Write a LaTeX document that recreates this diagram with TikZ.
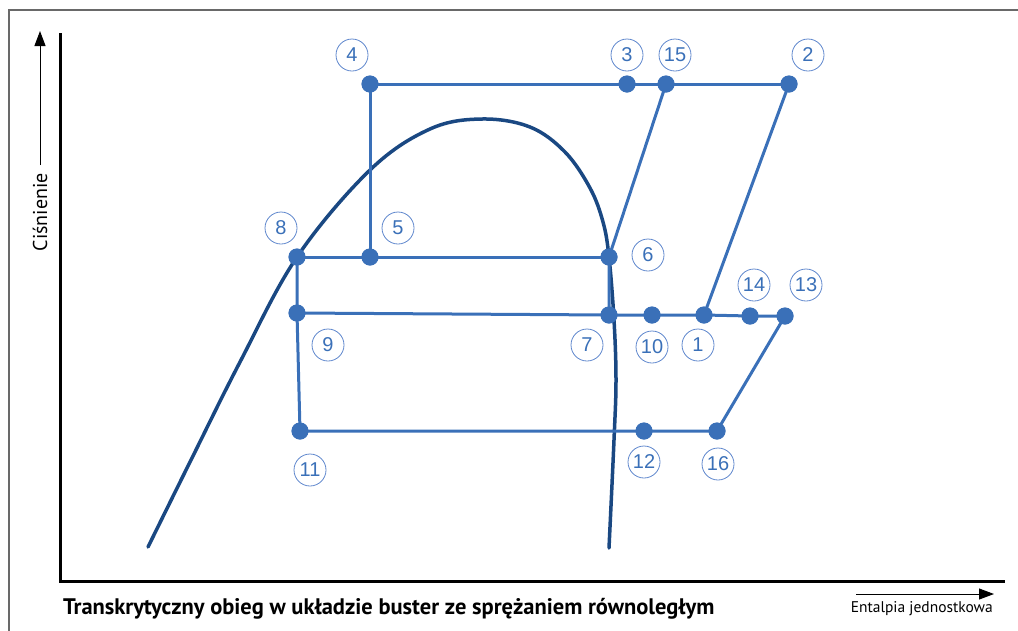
\documentclass[tikz,border=0pt]{standalone}
\usepackage{fontspec}
\setmainfont{PT Sans}
\newfontfamily\numfont{Liberation Sans}
\usetikzlibrary{arrows.meta}
\definecolor{cycleblue}{RGB}{58,112,184}
\definecolor{ringblue}{RGB}{95,135,205}
\definecolor{domenavy}{RGB}{26,72,130}
\definecolor{framegray}{RGB}{105,105,105}
\tikzset{
	state/.style={circle, fill=cycleblue, inner sep=0pt, minimum size=17pt},
	num/.style={circle, draw=ringblue, line width=0.8pt, text=cycleblue, inner sep=0pt, minimum size=32pt, font=\numfont\fontsize{20}{20}\selectfont},
	cycleline/.style={draw=cycleblue, line width=3pt, line join=round},
	dome/.style={draw=domenavy, line width=3.5pt, line cap=round},
	axis/.style={draw=black, line width=3pt},
	axisarrow/.style={-{Triangle[length=15pt, width=11pt]}, line width=1pt},
}

\begin{document}
\begin{tikzpicture}[x=1pt, y=-1pt]
	\useasboundingbox (0,0) rectangle (1018,630);
	% frame and axes
	\draw[framegray, line width=1.5pt] (1030,10) -- (9,10) -- (9,640);
	\coordinate (origin) at (60,581);
	\coordinate (ytop) at (60,33);
	\coordinate (xend) at (1005,581);
	\draw[axis] (ytop) -- (origin) -- (xend);
	\coordinate (ytail) at (40,165);
	\coordinate (ytip) at (40,31);
	\draw[axisarrow] (ytail) -- (ytip);
	\node[rotate=90, anchor=east, inner sep=0pt, font=\fontsize{20}{20}\selectfont] (ylab) at (40,173) {Ciśnienie};
	\coordinate (xtail) at (856,594);
	\coordinate (xtip) at (994,594);
	\draw[axisarrow] (xtail) -- (xtip);
	\node[anchor=east, inner sep=0pt, font=\fontsize{15.5}{15.5}\selectfont] (xlab) at (993,609) {Entalpia jednostkowa};
	\node[anchor=west, inner sep=0pt, font=\bfseries\fontsize{22.5}{22.5}\selectfont] (title) at (63,609) {Transkrytyczny obieg w układzie buster ze sprężaniem równoległym};

	% saturation dome
	\draw[dome] plot[smooth, tension=0.6] coordinates {(148,547) (190,462) (240,362) (297,257) (370,170) (430,129) (482,119) (530,127) (565,152) (590,188) (603,222) (609,257) (614,320) (616,380) (614,440) (609,548)};

	% state points
	\node[state] (p4) at (370,84) {};
	\node[state] (p3) at (627,84) {};
	\node[state] (p15) at (666,84) {};
	\node[state] (p2) at (789,84) {};
	\node[state] (p8) at (297,257) {};
	\node[state] (p5) at (370,257) {};
	\node[state] (p6) at (609,257) {};
	\node[state] (p9) at (297,313) {};
	\node[state] (p7) at (609,315) {};
	\node[state] (p10) at (652,315) {};
	\node[state] (p1) at (704,315) {};
	\node[state] (p14) at (750,316) {};
	\node[state] (p13) at (785,316) {};
	\node[state] (p11) at (300,431) {};
	\node[state] (p12) at (644,431) {};
	\node[state] (p16) at (717,431) {};

	% cycle
	\draw[cycleline] (p4.center) -- (p3.center) -- (p15.center) -- (p2.center);
	\draw[cycleline] (p4.center) -- (p5.center);
	\draw[cycleline] (p8.center) -- (p5.center) -- (p6.center);
	\draw[cycleline] (p15.center) -- (p6.center) -- (p7.center);
	\draw[cycleline] (p8.center) -- (p9.center) -- (p11.center);
	\draw[cycleline] (p9.center) -- (p7.center) -- (p10.center) -- (p1.center) -- (p14.center) -- (p13.center);
	\draw[cycleline] (p2.center) -- (p1.center);
	\draw[cycleline] (p11.center) -- (p12.center) -- (p16.center) -- (p13.center);
	\foreach \p in {4,3,15,2,8,5,6,9,7,10,1,14,13,11,12,16}
		\fill[cycleblue] (p\p) circle (8.5pt);

	% labels
	\foreach \n/\x/\y in {4/352/55, 3/627/55, 15/675/55, 2/808/55, 8/281/228, 5/398/228, 6/648/255, 9/328/345, 7/587/345, 10/652/347, 1/698/345, 14/754/285, 13/806/285, 11/310/470, 12/644/462, 16/718/464}
		\node[num] (l\n) at (\x,\y) {\n};
\end{tikzpicture}
\end{document}
